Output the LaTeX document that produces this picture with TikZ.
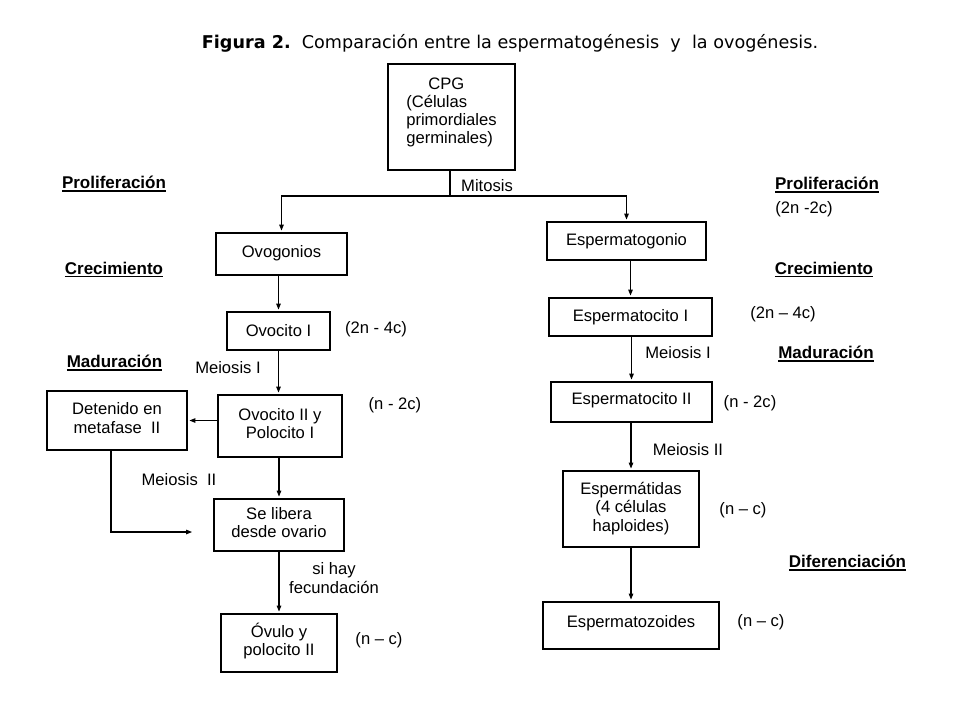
\documentclass[tikz,border=0pt]{standalone}
\usepackage{fontspec}
\setmainfont{Liberation Sans}
\newfontfamily\titlefont{DejaVu Sans}
\usetikzlibrary{arrows.meta,calc}
\newcommand{\thickul}[1]{\setbox0\hbox{#1}\leavevmode\rlap{\rule[-2.6pt]{\wd0}{1.3pt}}\box0}
\newcommand{\liftup}[2]{\vphantom{#2}\smash{\raisebox{#1}{#2}}}
\begin{document}
\begin{tikzpicture}[x=1pt,y=-1pt,
  every node/.style={font=\fontsize{16.6}{18.5}\selectfont, inner sep=0pt},
  box/.style={draw, line width=1.8pt, align=center},
  lbl/.style={align=center},
  head/.style={font=\fontsize{17}{18.5}\selectfont\bfseries},
  arr/.style={line width=1.1pt, -{Triangle[length=6pt,width=4.5pt]}, shorten >=1.5pt},
  ln/.style={line width=1.1pt}]
\useasboundingbox (0,0) rectangle (960,720);
\fill[white] (0,0) rectangle (960,720);
% title
\node (title) at (510,43) {\titlefont\fontsize{17.6}{20}\selectfont\textbf{Figura 2.}\ \ Comparación entre la espermatogénesis \ y \ la ovogénesis.};
% boxes
\node[box, minimum width=127pt, minimum height=106pt, align=left] (cpg) at (451.5,117) {\liftup{4pt}{\fontsize{16.6}{18.2}\selectfont\begin{tabular}{@{}l@{}}\hspace*{22pt}CPG\\(Células\\primordiales\\germinales)\end{tabular}}};
\node[box, minimum width=131pt, minimum height=42pt] (ovog) at (281.5,254) {\liftup{1pt}{Ovogonios}};
\node[box, minimum width=103pt, minimum height=38pt] (ovo1) at (278.5,331) {Ovocito I};
\node[box, minimum width=124pt, minimum height=62pt] (ovo2) at (280,426) {\begin{tabular}{@{}c@{}}Ovocito II y\\Polocito I\end{tabular}};
\node[box, minimum width=140pt, minimum height=59pt] (deten) at (117,420.5) {\begin{tabular}{@{}c@{}}Detenido en\\metafase \ II\end{tabular}};
\node[box, minimum width=130pt, minimum height=52pt] (libera) at (279,525) {\begin{tabular}{@{}c@{}}Se libera\\desde ovario\end{tabular}};
\node[box, minimum width=116pt, minimum height=58pt] (ovulo) at (279,643) {\liftup{1pt}{\begin{tabular}{@{}c@{}}Óvulo y\\polocito II\end{tabular}}};
\node[box, minimum width=159pt, minimum height=38pt] (esg) at (626.5,241) {Espermatogonio};
\node[box, minimum width=163pt, minimum height=38pt] (esc1) at (630.5,317) {Espermatocito I};
\node[box, minimum width=161pt, minimum height=40pt] (esc2) at (631.5,402) {\liftup{2pt}{Espermatocito II}};
\node[box, minimum width=136pt, minimum height=76pt] (esd) at (631,509) {\begin{tabular}{@{}c@{}}Espermátidas\\(4 células\\haploides)\end{tabular}};
\node[box, minimum width=176pt, minimum height=47pt] (esz) at (631,625.5) {\liftup{2pt}{Espermatozoides}};
% connectors
\coordinate (J) at (450,196);
\draw[ln] (cpg.south -| J) -- (J);
\draw[arr] (J) -| (ovog.north);
\draw[arr] (J) -| (esg.north);
\draw[arr] (ovog.south -| ovo1.north) -- (ovo1.north);
\draw[arr] (ovo1.south) -- (ovo1.south |- ovo2.north);
\draw[arr] (ovo2.south -| libera.north) -- (libera.north);
\draw[arr] (libera.south) -- (ovulo.north);
\draw[arr] (ovo2.west |- deten.east) -- (deten.east);
\draw[arr, shorten >=21pt] (deten.south -| 111,0) |- ([yshift=-7pt]libera.west);
\draw[arr] (esg.south -| esc1.north) -- (esc1.north);
\draw[arr] (esc1.south -| esc2.north) -- (esc2.north);
\draw[arr] (esc2.south -| esd.north) -- (esd.north);
\draw[arr] (esd.south) -- (esz.north);
% labels
\node[lbl] (mit) at (487,186) {Mitosis};
\node[lbl] (m1l) at (228,368) {Meiosis I};
\node[lbl] (m2l) at (179,480) {Meiosis \ II};
\node[lbl] (fec) at (334,578) {si hay\\fecundación};
\node[lbl] (p1) at (376,329) {(2n - 4c)};
\node[lbl] (p2) at (395,405) {(n - 2c)};
\node[lbl] (p3) at (379,640) {(n – c)};
\node[lbl] (m1r) at (678,353) {Meiosis I};
\node[lbl] (m2r) at (688,450) {Meiosis II};
\node[lbl] (q0) at (804,209) {(2n -2c)};
\node[lbl] (q1) at (783,314) {(2n – 4c)};
\node[lbl] (q2) at (750,403) {(n - 2c)};
\node[lbl] (q3) at (743,510) {(n – c)};
\node[lbl] (q4) at (761,622) {(n – c)};
\node[head] (hpl) at (114,184) {\thickul{Proliferación}};
\node[head] (hcl) at (114,270) {\thickul{Crecimiento}};
\node[head] (hml) at (114.5,363) {\thickul{Maduración}};
\node[head] (hpr) at (827,185) {\thickul{Proliferación}};
\node[head] (hcr) at (824,270) {\thickul{Crecimiento}};
\node[head] (hmr) at (826,354) {\thickul{Maduración}};
\node[head] (hdr) at (847.5,563) {\thickul{Diferenciación}};
\end{tikzpicture}
\end{document}
